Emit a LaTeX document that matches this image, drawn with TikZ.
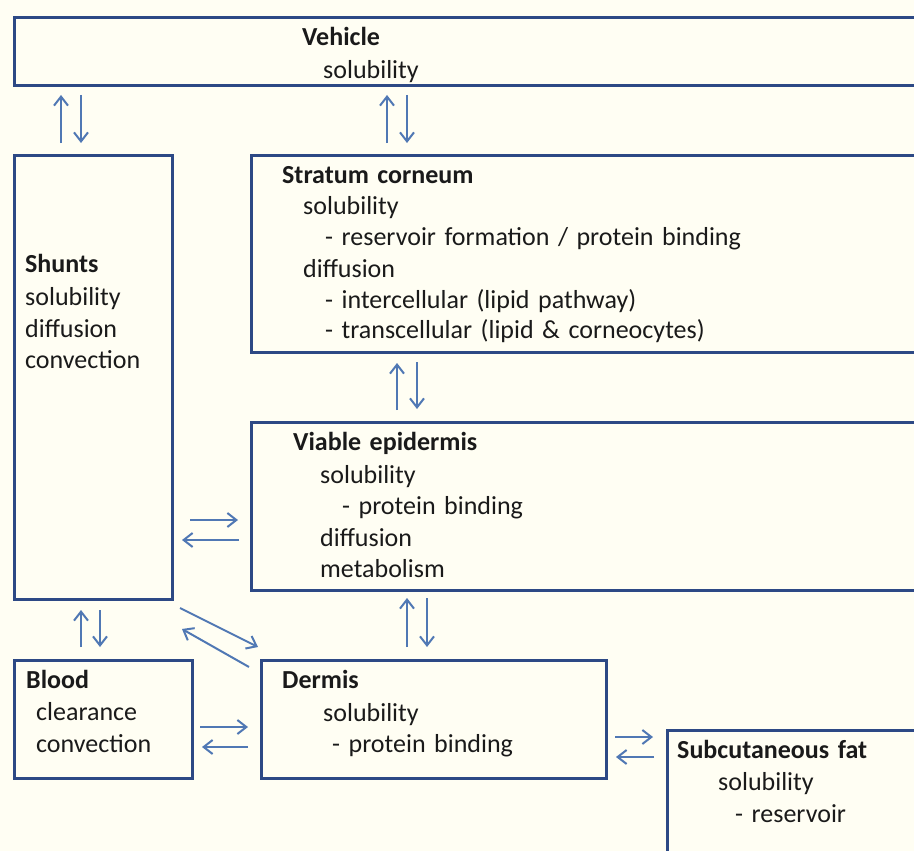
\documentclass[tikz,border=0pt]{standalone}
\usepackage{fontspec}
\setmainfont{Carlito}[WordSpace=1.45]
\usetikzlibrary{arrows.meta}
\definecolor{paper}{HTML}{FFFEF3}
\definecolor{frame}{HTML}{2D4985}
\definecolor{flow}{HTML}{5078B4}
\definecolor{ink}{HTML}{1A1A1A}
\begin{document}
\begin{tikzpicture}[x=1pt,y=-1pt,
  layer/.style={draw=frame, line width=3.2pt, inner sep=0pt, anchor=north west},
  txt/.style={anchor=base west, inner sep=0pt, text=ink, font=\fontsize{26}{31}\selectfont},
  head/.style={txt, font=\fontsize{26}{31}\selectfont\bfseries},
  flux/.style={draw=flow, line width=2pt, -{Straight Barb[length=9pt,width=14pt]}}]
\clip (0,0) rectangle (914,851);
\fill[paper] (0,0) rectangle (914,851);

% compartments
\node[layer, minimum width=927pt, minimum height=68pt]  (veh)  at (13,16)  {};
\node[layer, minimum width=158pt, minimum height=444pt] (shu)  at (13,154) {};
\node[layer, minimum width=690pt, minimum height=197pt] (sc)   at (250,154) {};
\node[layer, minimum width=690pt, minimum height=168pt] (ve)   at (250,421) {};
\node[layer, minimum width=178pt, minimum height=118pt] (blo)  at (13,659) {};
\node[layer, minimum width=345pt, minimum height=118pt] (der)  at (260,659) {};
\node[layer, minimum width=274pt, minimum height=150pt] (fat)  at (666,729) {};

% vehicle
\node[head] (vehT) at (302,46) {Vehicle};
\node[txt]  (vehA) at (323,78) {solubility};

% shunts
\node[head] (shuT) at (25,272) {Shunts};
\node[txt]  (shuA) at (25,305) {solubility};
\node[txt]  (shuB) at (25,337) {diffusion};
\node[txt]  (shuC) at (25,368) {convection};

% stratum corneum
\node[head] (scT) at (282,183) {Stratum corneum};
\node[txt]  (scA) at (303,214) {solubility};
\node[txt]  (scB) at (325,245) {- reservoir formation / protein binding};
\node[txt]  (scC) at (303,277) {diffusion};
\node[txt]  (scD) at (325,308) {- intercellular (lipid pathway)};
\node[txt]  (scE) at (325,338) {- transcellular (lipid \& corneocytes)};

% viable epidermis
\node[head] (veT) at (293,450) {Viable epidermis};
\node[txt]  (veA) at (320,483) {solubility};
\node[txt]  (veB) at (342,514) {- protein binding};
\node[txt]  (veC) at (320,546) {diffusion};
\node[txt]  (veD) at (320,577) {metabolism};

% blood
\node[head] (bloT) at (26,688) {Blood};
\node[txt]  (bloA) at (36,720) {clearance};
\node[txt]  (bloB) at (36,752) {convection};

% dermis
\node[head] (derT) at (282,688) {Dermis};
\node[txt]  (derA) at (323,721) {solubility};
\node[txt]  (derB) at (332,752) {- protein binding};

% subcutaneous fat
\node[head] (fatT) at (677,758) {Subcutaneous fat};
\node[txt]  (fatA) at (718,790) {solubility};
\node[txt]  (fatB) at (735,822) {- reservoir};

% exchange arrows
\coordinate (vsU0) at (61,143);  \coordinate (vsU1) at (61,95);
\coordinate (vsD0) at (81,95);   \coordinate (vsD1) at (81,143);
\coordinate (vcU0) at (387,143); \coordinate (vcU1) at (387,95);
\coordinate (vcD0) at (407,95);  \coordinate (vcD1) at (407,143);
\coordinate (ceU0) at (397,410); \coordinate (ceU1) at (397,363);
\coordinate (ceD0) at (417,362); \coordinate (ceD1) at (417,409);
\coordinate (seR0) at (190,520); \coordinate (seR1) at (238,520);
\coordinate (seL0) at (239,540); \coordinate (seL1) at (182,540);
\coordinate (edU0) at (407,647); \coordinate (edU1) at (407,598);
\coordinate (edD0) at (427,598); \coordinate (edD1) at (427,647);
\coordinate (sdR0) at (180,608); \coordinate (sdR1) at (258,647);
\coordinate (sdL0) at (249,667); \coordinate (sdL1) at (182,629);
\coordinate (sbU0) at (81,647);  \coordinate (sbU1) at (81,610);
\coordinate (sbD0) at (100,610); \coordinate (sbD1) at (100,647);
\coordinate (bdR0) at (200,727); \coordinate (bdR1) at (248,727);
\coordinate (bdL0) at (248,747); \coordinate (bdL1) at (202,747);
\coordinate (dfR0) at (615,737); \coordinate (dfR1) at (653,737);
\coordinate (dfL0) at (654,757); \coordinate (dfL1) at (616,757);

\foreach \a in {vsU,vsD,vcU,vcD,ceU,ceD,seR,seL,edU,edD,sdR,sdL,sbU,sbD,bdR,bdL,dfR,dfL}
  \draw[flux] (\a0) -- (\a1);
\end{tikzpicture}
\end{document}
